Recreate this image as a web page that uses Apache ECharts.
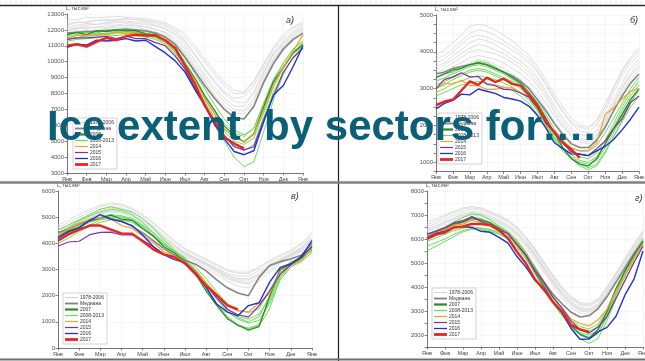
<!DOCTYPE html>
<html>
<head>
<meta charset="utf-8">
<script src="https://cdn.jsdelivr.net/npm/echarts@6/dist/echarts.min.js"></script>
<style>
  html, body { margin: 0; padding: 0; background: #fff; }
  #chart { width: 645px; height: 361px; }
</style>
</head>
<body>
<div id="chart"></div>
<script>
// Month tick labels (13 ticks: Jan ... next Jan)
const months = ['Янв','Фев','Мар','Апр','Май','Июн','Июл','Авг','Сен','Окт','Ноя','Дек','Янв'];
const legendNames = ['1978-2006','Медиана','2007','2008-2013','2014','2015','2016','2017'];
const panelLetters = ['а)', 'б)', 'в)', 'г)'];
const unitLabel = 'L, тыс.км²';
// values are sampled every half month, starting on 1 January

// ---- sector а) ----
const aHistory = [
  [12300,12450,12500,12600,12650,12600,12700,12650,12550,12400,12250,11900,11300,10500,9600,8800,8100,7700,7800,8500,9600,10600,11300,11900,12300],
  [12100,12150,12300,12350,12400,12450,12500,12400,12350,12250,12050,11650,11000,10100,9200,8400,7700,7200,7200,8000,9300,10400,11100,11700,12100],
  [11900,12050,12100,12200,12150,12250,12300,12250,12200,12050,11800,11300,10600,9700,8800,7900,7200,6800,6700,7500,8900,10100,10900,11500,11900],
  [12000,12100,12200,12100,12300,12300,12400,12300,12200,12050,11850,11450,10800,9900,9000,8200,7500,7000,6900,7700,9100,10200,11000,11600,12000],
  [12400,12500,12450,12600,12550,12650,12700,12650,12600,12500,12350,12000,11500,10800,10000,9200,8500,8000,8000,8700,9800,10800,11500,12100,12400],
  [11800,11900,12000,11950,12100,12150,12200,12150,12050,11900,11650,11200,10500,9600,8700,7800,7000,6500,6400,7100,8600,9800,10700,11300,11800],
  [12200,12300,12400,12350,12450,12550,12550,12500,12450,12300,12100,11750,11200,10400,9500,8700,8000,7500,7400,8100,9400,10500,11200,11800,12200],
  [12600,12650,12800,12750,12800,12850,12800,12750,12700,12600,12450,12150,11700,11000,10200,9400,8700,8200,8100,8800,9900,10900,11700,12200,12500]
];
const aMedian = [11800,11850,11900,11900,11950,12000,12050,12000,11950,11800,11550,11100,10300,9400,8500,7700,7000,6500,6400,7200,8700,9900,10800,11400,11800];
const a2007 = [11700,11850,11700,11950,11900,12000,11950,11950,11750,11700,11300,10850,9850,8950,7850,6950,5950,5350,4950,5450,7150,8750,9650,10550,11100];
const a2008to2013 = [
  [11500,11650,11700,11800,11750,11850,11900,11800,11700,11550,11250,10700,9800,8800,7700,6700,5800,5200,5000,5500,7100,8600,9700,10600,11200],
  [11650,11700,11850,11800,11950,11900,11950,11900,11800,11650,11350,10850,10000,9000,7900,6900,6100,5500,5300,5800,7400,8900,9900,10800,11300],
  [11400,11500,11600,11650,11700,11800,11800,11750,11650,11500,11200,10600,9700,8600,7500,6500,5600,5000,4800,5200,6800,8400,9600,10500,11000],
  [11300,11400,11450,11500,11600,11650,11700,11600,11550,11400,11100,10500,9500,8400,7300,6300,5400,4700,4400,4800,6500,8100,9300,10300,10900],
  [11450,11500,11650,11700,11800,11850,11900,11850,11750,11600,11250,10650,9700,8500,7300,6100,5000,4000,3400,3700,5600,7600,9200,10300,11000],
  [11700,11800,11850,11950,12000,12000,12050,11950,11900,11750,11500,11000,10200,9300,8300,7300,6400,5700,5400,5800,7300,8800,9900,10800,11300]
];
const a2014 = [11500,11650,11650,11700,11700,11850,11800,11850,11650,11600,11200,10750,9750,8850,7650,6750,5750,5250,4950,5450,6950,8550,9650,10650,11700];
const a2015 = [11400,11500,11500,11550,11600,11450,11600,11450,11450,11200,11000,10350,9550,8350,7350,6150,5350,4650,4450,4650,6350,7850,9350,10250,10850];
const a2016 = [10900,11100,11050,11350,11300,11350,11450,11300,11350,10950,10550,10050,9350,8250,7250,6050,5150,4350,4150,4400,6200,7900,8500,9700,11000];
const a2017 = [11000,11100,10950,11250,11500,11350,11600,11700,11650,11650,11350,10850,9750,8600,7250,6250,5250,4850,4550];

// ---- sector б) ----
const bHistory = [
  [3800,3900,4100,4300,4500,4600,4550,4450,4300,4150,4000,3800,3500,3150,2750,2400,2100,1950,1900,2100,2500,3000,3450,3800,4000],
  [3500,3650,3800,3950,4100,4200,4150,4050,3950,3800,3650,3450,3200,2850,2450,2100,1800,1650,1600,1750,2150,2600,3050,3400,3700],
  [3300,3450,3600,3700,3850,3900,3850,3800,3700,3550,3400,3200,2950,2600,2250,1950,1700,1550,1500,1650,2050,2500,2900,3250,3500],
  [3900,4050,4250,4450,4700,4750,4700,4600,4450,4300,4100,3900,3600,3250,2850,2500,2200,2000,1950,2150,2600,3050,3500,3850,4100],
  [3600,3700,3900,4050,4250,4350,4300,4200,4050,3900,3750,3550,3300,2950,2550,2200,1900,1750,1700,1850,2250,2700,3150,3550,3800],
  [3200,3300,3450,3600,3700,3800,3750,3650,3550,3400,3250,3050,2800,2450,2100,1800,1550,1400,1400,1550,1950,2400,2800,3150,3400],
  [3700,3800,4000,4200,4400,4450,4400,4300,4200,4050,3900,3700,3450,3100,2700,2350,2050,1850,1800,2000,2400,2900,3350,3700,3900],
  [3400,3550,3700,3850,4000,4050,4000,3950,3850,3700,3550,3350,3100,2750,2350,2000,1750,1600,1550,1700,2100,2550,3000,3350,3600]
];
const bMedian = [3400,3450,3550,3600,3650,3700,3650,3550,3450,3350,3200,3000,2700,2400,2050,1750,1500,1400,1400,1600,1950,2400,2800,3150,3400];
const b2007 = [3300,3400,3500,3550,3650,3700,3650,3550,3450,3300,3150,2900,2600,2200,1800,1400,1100,950,900,1100,1500,1900,2300,2700,3000];
const b2008to2013 = [
  [3100,3200,3300,3400,3500,3550,3500,3400,3300,3200,3050,2800,2450,2050,1700,1400,1200,1050,1000,1150,1500,1950,2400,2800,3100],
  [2800,2900,3000,3100,3150,3200,3150,3100,3050,2950,2800,2600,2300,1950,1600,1300,1100,950,850,950,1300,1700,2100,2500,2800],
  [3300,3400,3450,3550,3650,3750,3700,3600,3450,3350,3200,3000,2700,2300,1900,1600,1400,1300,1300,1450,1800,2200,2600,3000,3300],
  [2900,3000,3150,3200,3300,3350,3300,3250,3150,3050,2900,2700,2400,2000,1650,1350,1150,1000,950,1050,1400,1800,2250,2650,2950],
  [3200,3300,3400,3500,3600,3650,3600,3500,3400,3250,3100,2850,2550,2150,1800,1500,1300,1150,1100,1250,1600,2050,2500,2900,3200],
  [3000,3100,3250,3350,3450,3500,3450,3350,3250,3150,3000,2750,2400,2000,1650,1350,1100,900,800,900,1250,1700,2150,2600,3000]
];
const b2014 = [3000,3150,3120,3230,3080,3080,2980,2980,3030,3020,2880,2770,2480,2170,1780,1570,1380,1320,1330,1520,2300,2480,2720,2930,3000];
const b2015 = [3000,3250,3320,3430,3320,3330,3120,3080,2980,2970,2880,2770,2480,2170,1780,1520,1280,1220,1180,1370,1580,1920,2180,2620,2800];
const b2016 = [2450,2600,2680,2850,2830,2990,2930,2870,2760,2720,2660,2520,2270,1930,1530,1370,1230,1220,1180,1310,1430,1620,1880,2170,2500];
const b2017 = [2550,2650,2700,2950,3200,3100,3300,3180,3270,3130,3080,2820,2520,2080,1820,1530,1350,1120];

// ---- sector в) ----
const cHistory = [
  [4500,4700,4900,5100,5300,5400,5350,5200,4950,4650,4300,3950,3650,3450,3250,3050,2850,2750,2750,2950,3200,3400,3600,3850,4200],
  [4300,4500,4700,4900,5100,5200,5150,5000,4750,4450,4100,3800,3550,3350,3150,2900,2650,2500,2450,2650,3000,3300,3500,3750,4100],
  [4600,4800,5000,5200,5400,5500,5450,5300,5050,4750,4400,4050,3750,3550,3350,3150,2950,2850,2850,3050,3300,3500,3700,3950,4300],
  [4400,4600,4800,5000,5150,5250,5200,5050,4800,4500,4150,3850,3600,3400,3200,2950,2700,2550,2500,2750,3100,3350,3550,3800,4150],
  [4700,4900,5100,5300,5450,5550,5500,5350,5100,4800,4450,4100,3800,3600,3400,3200,3000,2900,2900,3100,3350,3550,3750,4000,4400],
  [4200,4400,4600,4800,5000,5100,5050,4900,4650,4350,4000,3700,3500,3300,3050,2800,2550,2350,2300,2550,2900,3250,3450,3700,4000],
  [4500,4650,4850,5050,5250,5350,5300,5150,4900,4600,4250,3900,3650,3450,3250,3000,2800,2650,2650,2850,3150,3400,3600,3850,4200],
  [4350,4550,4750,4950,5150,5250,5200,5050,4850,4550,4200,3900,3600,3400,3200,3000,2750,2600,2600,2800,3100,3350,3550,3750,4100]
];
const cMedian = [4400,4550,4750,4850,4950,4950,4850,4650,4400,4100,3800,3550,3350,3200,2950,2600,2300,2100,2000,2700,3150,3300,3400,3550,4000];
const c2007 = [4250,4480,4620,4880,4970,5080,4920,4880,4570,4280,3870,3630,3270,2830,2170,1630,1120,870,680,820,1980,3020,3180,3430,3900];
const c2008to2013 = [
  [4400,4600,4850,5050,5200,5300,5250,5100,4800,4400,4000,3650,3350,2900,2300,1700,1200,900,750,850,1500,2700,3200,3500,3900],
  [4100,4300,4500,4700,4900,5000,5000,4900,4650,4300,3950,3650,3400,3000,2500,2000,1500,1200,1100,1300,1900,2800,3250,3500,3800],
  [4500,4700,4900,5100,5300,5400,5300,5200,4950,4600,4150,3750,3400,2950,2400,1850,1400,1100,950,1050,1700,2600,3100,3400,3750],
  [4300,4500,4700,4850,5000,5100,5050,4950,4700,4400,4050,3700,3350,2850,2250,1650,1150,850,750,900,1800,2700,3100,3300,3650],
  [4200,4400,4650,4800,4950,5050,5000,4900,4650,4300,3950,3650,3400,3000,2500,1950,1450,1150,1000,1200,2000,2900,3300,3450,3700],
  [4000,4200,4450,4650,4800,4900,4900,4800,4550,4250,3950,3700,3450,3100,2650,2150,1700,1450,1350,1500,2200,2950,3250,3450,3750]
];
const c2014 = [4300,4550,4770,4930,4970,4930,4680,4570,4280,4030,3680,3520,3280,2970,2480,2070,1630,1420,1380,1720,2080,2920,3180,3330,3800];
const c2015 = [3900,4050,4080,4330,4420,4430,4320,4330,4120,3870,3580,3470,3230,2870,2380,1920,1480,1270,1180,1620,2180,2820,3180,3520,3850];
const c2016 = [4200,4450,4580,4880,5100,4920,4830,4680,4320,3880,3570,3380,3270,2880,2320,1680,1370,1230,1620,1730,2520,3080,3220,3480,4100];
const c2017 = [4100,4350,4520,4680,4680,4520,4380,4370,4080,3770,3580,3470,3230,2820,2380,2020,1630,1480];

// ---- sector г) ----
const dHistory = [
  [6400,6550,6750,6900,7050,7150,7100,6950,6800,6600,6300,5900,5400,4850,4300,3800,3400,3150,3100,3300,3800,4400,5000,5600,6150],
  [6200,6350,6550,6750,6900,7000,6950,6800,6650,6450,6150,5750,5250,4700,4150,3650,3250,3000,2950,3150,3650,4250,4850,5450,6000],
  [6600,6750,6950,7100,7250,7300,7250,7100,6950,6750,6450,6050,5550,5000,4450,3950,3550,3300,3250,3450,3950,4550,5150,5750,6300],
  [6300,6450,6650,6800,6950,7050,7000,6850,6700,6500,6200,5800,5300,4750,4200,3700,3300,3050,3000,3200,3700,4300,4900,5500,6050],
  [6500,6650,6850,7000,7150,7250,7200,7050,6900,6700,6400,6000,5500,4950,4400,3900,3500,3250,3200,3400,3900,4500,5100,5700,6250],
  [6100,6250,6450,6650,6800,6900,6850,6700,6550,6350,6050,5650,5150,4600,4050,3550,3150,2900,2850,3050,3550,4150,4750,5350,5900],
  [6700,6850,7000,7150,7300,7350,7300,7150,7000,6800,6500,6100,5600,5050,4500,4000,3600,3350,3300,3500,4000,4600,5200,5800,6350],
  [6350,6500,6700,6850,7000,7100,7050,6900,6750,6550,6250,5850,5350,4800,4250,3750,3350,3100,3050,3250,3750,4350,4950,5550,6100]
];
const dMedian = [6200,6300,6450,6600,6700,6850,6800,6650,6450,6200,5800,5300,4750,4200,3700,3300,2950,2750,2800,3100,3600,4200,4800,5400,5900];
const d2007 = [6100,6280,6370,6630,6720,6930,6770,6680,6420,6230,5770,5330,4620,4030,3370,2930,2370,2030,1870,2230,2970,3930,4670,5330,5900];
const d2008to2013 = [
  [5500,5700,5900,6100,6300,6400,6450,6400,6300,6100,5800,5300,4700,4050,3450,2950,2450,2050,1900,2100,2800,3700,4500,5200,5800],
  [6200,6350,6500,6700,6900,7050,7000,6800,6550,6300,5900,5350,4700,4050,3400,2850,2300,1850,1650,1850,2600,3500,4300,5000,5700],
  [5900,6050,6200,6350,6450,6500,6450,6350,6250,6050,5700,5200,4600,3950,3350,2850,2400,2100,2000,2200,2900,3800,4600,5300,5900],
  [6000,6150,6350,6550,6700,6850,6800,6650,6450,6250,5900,5400,4800,4150,3550,3050,2600,2250,2150,2350,3000,3850,4600,5300,5950],
  [5700,5850,6000,6200,6350,6450,6400,6300,6200,6000,5650,5150,4550,3900,3300,2800,2350,2000,1850,2050,2750,3650,4450,5150,5800],
  [6100,6250,6400,6600,6750,6900,6850,6700,6500,6300,5950,5450,4850,4250,3650,3100,2650,2350,2250,2450,3100,3950,4700,5400,6000]
];
const d2014 = [6100,6280,6370,6580,6620,6780,6670,6580,6370,6230,5820,5380,4670,4130,3570,3130,2670,2480,2380,2630,3070,3830,4470,5230,5800];
const d2015 = [6200,6330,6470,6680,6770,6930,6720,6580,6370,6230,5770,5330,4670,4180,3570,3130,2570,2230,2080,2330,2770,3530,4270,5030,5700];
const d2016 = [6050,6230,6320,6480,6520,6480,6320,6280,6070,5830,5270,4830,4270,3930,3370,2930,2270,1820,1830,2130,2320,2780,3670,4330,5500];
const d2017 = [6000,6180,6270,6480,6520,6630,6620,6580,6370,6030,5470,4980,4320,3880,3370,2980,2420,2230,2130];

// ---- layout of the four panels ----
const grids = [
  { left: 67,  top: 14,  width: 236, height: 159 },
  { left: 436, top: 15,  width: 203, height: 156.5 },
  { left: 58,  top: 191, width: 254, height: 157 },
  { left: 427, top: 191, width: 216, height: 156 }
];
const yRanges = [
  { min: 3000, max: 13000, interval: 1000 },
  { min: 750,  max: 5000,  interval: 250 },
  { min: 0,    max: 6000,  interval: 1000 },
  { min: 1500, max: 8000,  interval: 500 }
];
const legendBoxes = [
  { left: 73,  top: 118 },
  { left: 438, top: 113 },
  { left: 63,  top: 293 },
  { left: 432, top: 288 }
];
const letterPos = [[286, 20], [630, 20], [291, 196], [635, 198]];

const styles = {
  '1978-2006': { color: '#d6d6d6', width: 0.8, z: 1, icon: 1.2 },
  'Медиана':   { color: '#858585', width: 1.6, z: 3, icon: 2 },
  '2007':      { color: '#2f8a2f', width: 1.3, z: 4, icon: 2.4 },
  '2008-2013': { color: '#6ddd5a', width: 1.0, z: 2, icon: 1.3 },
  '2014':      { color: '#f2a22c', width: 1.2, z: 5, icon: 1.3 },
  '2015':      { color: '#8a2ca6', width: 1.2, z: 6, icon: 1.3 },
  '2016':      { color: '#2230d4', width: 1.4, z: 7, icon: 1.4 },
  '2017':      { color: '#e8261e', width: 2.4, z: 8, icon: 3 }
};

const series = [];
function addLine(panel, name, values) {
  const st = styles[name];
  series.push({
    type: 'line', name: name,
    xAxisIndex: panel, yAxisIndex: panel,
    data: values.map((v, i) => [i * 0.5, v]),
    symbol: 'none', silent: true, animation: false,
    lineStyle: { color: st.color, width: st.width },
    itemStyle: { color: st.color },
    z: st.z
  });
}
const panelsData = [
  [aHistory, aMedian, a2007, a2008to2013, a2014, a2015, a2016, a2017],
  [bHistory, bMedian, b2007, b2008to2013, b2014, b2015, b2016, b2017],
  [cHistory, cMedian, c2007, c2008to2013, c2014, c2015, c2016, c2017],
  [dHistory, dMedian, d2007, d2008to2013, d2014, d2015, d2016, d2017]
];
panelsData.forEach((p, k) => {
  p[0].forEach(v => addLine(k, '1978-2006', v));
  addLine(k, 'Медиана', p[1]);
  p[3].forEach(v => addLine(k, '2008-2013', v));
  addLine(k, '2007', p[2]);
  addLine(k, '2014', p[4]);
  addLine(k, '2015', p[5]);
  addLine(k, '2016', p[6]);
  addLine(k, '2017', p[7]);
});

const axisColor = '#555';
const xAxes = grids.map((g, k) => ({
  type: 'value', gridIndex: k, min: 0, max: 12, interval: 1,
  axisLine: { show: true, onZero: false, lineStyle: { color: axisColor, width: 0.8 } },
  axisTick: { show: true, length: 2.5, lineStyle: { color: axisColor, width: 0.7 } },
  axisLabel: { fontSize: 5.5, color: '#444', margin: 3, showMaxLabel: true, showMinLabel: true,
               formatter: v => months[Math.round(v)] },
  splitLine: { show: true, lineStyle: { color: '#efefef', width: 0.6 } }
}));
const yAxes = grids.map((g, k) => ({
  type: 'value', gridIndex: k,
  min: yRanges[k].min, max: yRanges[k].max, interval: yRanges[k].interval,
  name: unitLabel, nameLocation: 'end', nameGap: 3,
  nameTextStyle: { fontSize: 5, color: '#444', align: 'left', padding: [0, 0, 0, -1] },
  axisLine: { show: true, lineStyle: { color: axisColor, width: 0.8 } },
  axisTick: { show: true, length: 2.5, lineStyle: { color: axisColor, width: 0.7 } },
  axisLabel: { fontSize: 6, color: '#555', margin: 3, showMinLabel: true, showMaxLabel: true,
               formatter: v => (v % 1000 === 0 ? String(v) : '') },
  splitLine: { show: true, lineStyle: { color: '#f1f1f1', width: 0.6 } }
}));

// legend keys are drawn as short bars whose thickness follows the line weight
const legendData = legendNames.map(n => ({
  name: n, icon: 'path://M0,0H14V' + styles[n].icon + 'H0Z'
}));
const legends = legendBoxes.map(b => ({
  data: legendData, orient: 'vertical', left: b.left, top: b.top,
  selectedMode: false, itemWidth: 13, itemHeight: 4, itemGap: 1, symbolKeepAspect: true,
  padding: [2, 3, 2, 2], borderColor: '#b5b5b5', borderWidth: 0.6, backgroundColor: '#fff',
  textStyle: { fontSize: 5, color: '#333', lineHeight: 5, padding: [0, 0, 0, -3] },
  z: 20
}));

const graphics = [];
// panel letters
letterPos.forEach((p, k) => graphics.push({
  type: 'text', x: p[0], y: p[1], z: 30,
  style: { text: panelLetters[k], font: 'italic 9px "Liberation Sans", Arial, sans-serif',
           fill: '#333', textAlign: 'left', textVerticalAlign: 'middle', align: 'left', verticalAlign: 'middle' }
}));
// page frame rules
graphics.push(
  { type: 'line', z: 40, shape: { x1: 0, y1: 2, x2: 645, y2: 2 }, style: { stroke: '#e2e2e2', lineWidth: 1, lineDash: [2, 3] } },
  { type: 'line', z: 40, shape: { x1: 0, y1: 5.5, x2: 645, y2: 5.5 }, style: { stroke: '#2a2a2a', lineWidth: 1.5 } },
  { type: 'line', z: 40, shape: { x1: 338.5, y1: 5, x2: 338.5, y2: 361 }, style: { stroke: '#1e1e1e', lineWidth: 1.2 } },
  { type: 'line', z: 40, shape: { x1: 0, y1: 182.5, x2: 645, y2: 182.5 }, style: { stroke: '#808080', lineWidth: 2.5 } },
  { type: 'line', z: 40, shape: { x1: 0, y1: 359.5, x2: 645, y2: 359.5 }, style: { stroke: '#6e6e6e', lineWidth: 2 } }
);
// headline over the charts
graphics.push({
  type: 'text', x: 47, y: 128, z: 50,
  style: { text: 'Ice extent  by sectors for….', font: 'bold 42px "Liberation Sans", Arial, sans-serif',
           fill: '#0b5f79', textAlign: 'left', textVerticalAlign: 'middle', align: 'left', verticalAlign: 'middle' }
});

const chart = echarts.init(document.getElementById('chart'), null, { renderer: 'canvas' });
chart.setOption({
  animation: false,
  backgroundColor: '#fff',
  grid: grids.map(g => Object.assign({ containLabel: false, outerBoundsMode: 'none' }, g)),
  xAxis: xAxes,
  yAxis: yAxes,
  legend: legends,
  series: series,
  graphic: graphics
});
</script>
</body>
</html>
